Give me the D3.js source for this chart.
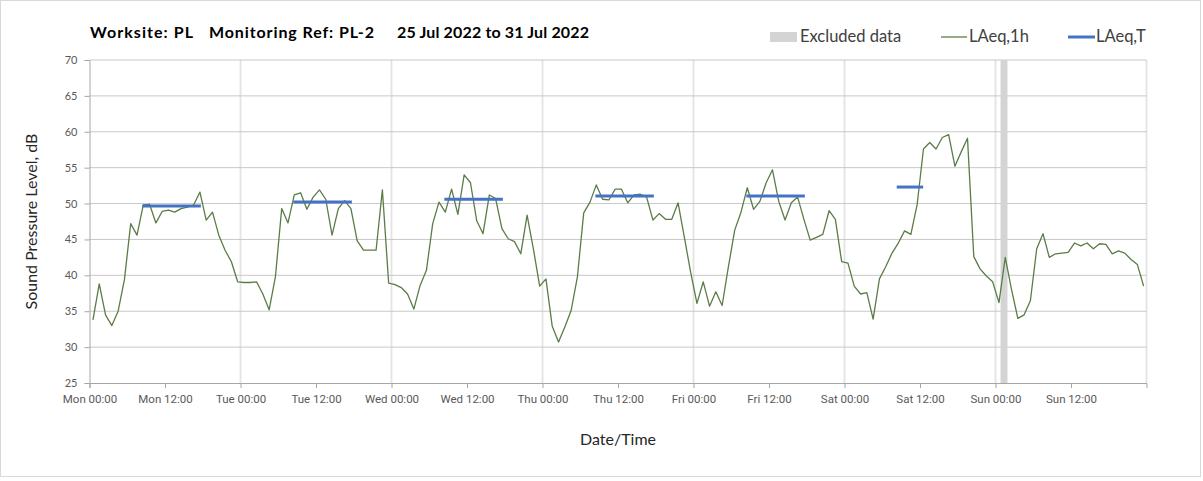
<html>
<head>
  <script src="https://d3js.org/d3.v7.min.js"></script>
  <style>
  body { margin: 0; background: #fff; }
  svg { display: block; }
  .ylab { font-family: Lato, "Open Sans", sans-serif; font-size: 11px; fill: #595959; }
  .xlab { font-family: "Liberation Sans Narrow", Roboto, sans-serif; font-size: 11.5px; fill: #595959; }
  </style>
</head>
<body>
  <svg id="chart" width="1203" height="481"></svg>
  <script>

// hourly LAeq,1h readings, Mon 00:00 .. Sun 23:00 (25 Jul - 31 Jul 2022)
var laeq1h = [
  33.8, 38.8, 34.5, 33.0, 35.0, 39.4, 47.2, 45.6, 49.8, 49.9, 47.3, 48.9,
  49.1, 48.8, 49.3, 49.5, 49.8, 51.6, 47.7, 48.8, 45.6, 43.5, 41.9, 39.1,
  39.0, 39.0, 39.1, 37.4, 35.2, 39.8, 49.3, 47.3, 51.2, 51.5, 49.2, 50.9,
  51.9, 50.6, 45.6, 49.3, 50.4, 49.3, 44.8, 43.5, 43.5, 43.5, 51.9, 38.9,
  38.7, 38.3, 37.4, 35.3, 38.6, 40.7, 47.2, 50.2, 48.8, 52.0, 48.5, 54.0,
  52.9, 47.6, 45.8, 51.2, 50.7, 46.5, 45.1, 44.7, 43.0, 48.4, 43.7, 38.5,
  39.5, 32.9, 30.7, 32.8, 35.1, 39.8, 48.7, 50.2, 52.6, 50.6, 50.5, 52.0,
  52.0, 50.1, 51.2, 51.3, 50.9, 47.7, 48.6, 47.8, 47.8, 50.1, 45.3, 40.4,
  36.1, 39.1, 35.7, 37.7, 35.8, 41.2, 46.3, 48.8, 52.2, 49.2, 50.3, 52.9,
  54.7, 50.3, 47.7, 50.1, 50.9, 47.8, 44.9, 45.3, 45.7, 49.0, 47.8, 41.9,
  41.7, 38.5, 37.4, 37.6, 33.9, 39.5, 41.2, 43.1, 44.5, 46.2, 45.7, 49.9,
  57.6, 58.5, 57.6, 59.2, 59.6, 55.2, 57.2, 59.1, 42.6, 40.9, 39.9, 39.1,
  36.2, 42.5, 38.0, 34.0, 34.5, 36.5, 43.7, 45.8, 42.5, 43.0, 43.1, 43.2,
  44.5, 44.1, 44.5, 43.7, 44.4, 44.3, 43.0, 43.4, 43.1, 42.2, 41.5, 38.5
];

// LAeq,T per day (Mon..Sat), with period start/end (hour of day)
var laeqTDay   = [0, 1, 2, 3, 4, 5];
var laeqT      = [49.65, 50.2, 50.6, 51.05, 51.05, 52.3];
var laeqTStart = [8.4, 8.4, 8.4, 8.4, 8.4, 8.3];
var laeqTEnd   = [17.7, 17.7, 17.7, 17.7, 17.7, 12.5];

// excluded period (hours from Mon 00:00)
var excluded = [[144.8, 145.9]];

var yTicks = [25, 30, 35, 40, 45, 50, 55, 60, 65, 70];

var svg = d3.select("#chart");

var t0 = Date.UTC(2022, 6, 25), t1 = Date.UTC(2022, 7, 1);
var HOUR = 3600000;

var x = d3.scaleUtc().domain([t0, t1]).range([89.5, 1146.5]);
var y = d3.scaleLinear().domain([25, 70]).range([383, 60]);

function hourX(h) { return x(t0 + h * HOUR); }

// outer border
svg.append("rect")
  .attr("x", 0.5).attr("y", 0.5)
  .attr("width", 1200).attr("height", 476)
  .attr("fill", "#fff").attr("stroke", "#d9d9d9");

// vertical gridlines at midnight
var dayTicks = d3.utcDay.range(t0 + 1, t1 + 1);
svg.append("g").selectAll("line")
  .data(dayTicks)
  .enter().append("line")
    .attr("x1", function(d) { return x(d); })
    .attr("x2", function(d) { return x(d); })
    .attr("y1", y(70)).attr("y2", y(25))
    .attr("stroke", "#e3e3e3").attr("stroke-width", 1.8);

// horizontal gridlines
svg.append("g").selectAll("line")
  .data(yTicks.slice(1))
  .enter().append("line")
    .attr("x1", x.range()[0]).attr("x2", x.range()[1])
    .attr("y1", function(d) { return y(d); })
    .attr("y2", function(d) { return y(d); })
    .attr("stroke", "#c8c8c8").attr("stroke-width", 1);

// excluded band
svg.append("g").selectAll("rect")
  .data(excluded)
  .enter().append("rect")
    .attr("x", function(d) { return hourX(d[0]); })
    .attr("width", function(d) { return hourX(d[1]) - hourX(d[0]); })
    .attr("y", y(70)).attr("height", y(25) - y(70))
    .attr("fill", "#d4d4d4");

// y axis
var yAxis = d3.axisLeft(y).tickValues(yTicks).tickSize(5).tickPadding(7);
var gy = svg.append("g").attr("transform", "translate(" + x.range()[0] + ",0)").call(yAxis);
gy.select(".domain").attr("stroke", "#a6a6a6");
gy.selectAll(".tick line").attr("stroke", "#a6a6a6");
gy.selectAll(".tick text").attr("class", "ylab").attr("fill", null);

// x axis
var xTicks = d3.utcHour.every(12).range(t0, t1);
var fmt = d3.utcFormat("%a %H:%M");
var xAxis = d3.axisBottom(x).tickValues(xTicks).tickFormat(fmt).tickSize(5).tickPadding(7);
var gx = svg.append("g").attr("transform", "translate(0," + y(25) + ")").call(xAxis);
gx.select(".domain").attr("stroke", "#a6a6a6");
gx.selectAll(".tick line").attr("stroke", "#a6a6a6");
gx.selectAll(".tick text").attr("class", "xlab").attr("fill", null);

// LAeq,1h line
var line = d3.line()
  .x(function(d, i) { return hourX(i + 0.55); })
  .y(function(d) { return y(d); });

svg.append("path")
  .datum(laeq1h)
  .attr("d", line)
  .attr("fill", "none")
  .attr("stroke", "#5b7c47")
  .attr("stroke-width", 1.3)
  .attr("stroke-linejoin", "round");

// LAeq,T segments
svg.append("g").selectAll("line")
  .data(laeqT)
  .enter().append("line")
    .attr("x1", function(d, i) { return hourX(laeqTDay[i] * 24 + laeqTStart[i]); })
    .attr("x2", function(d, i) { return hourX(laeqTDay[i] * 24 + laeqTEnd[i]); })
    .attr("y1", function(d) { return y(d); })
    .attr("y2", function(d) { return y(d); })
    .attr("stroke", "#4472c4").attr("stroke-width", 3);

// title
var title = svg.append("g")
  .style("font-family", "Lato, 'Open Sans', sans-serif")
  .style("font-weight", "bold").style("font-size", "16px").attr("fill", "#000");
title.append("text").attr("x", 90).attr("y", 38).attr("textLength", 103).text("Worksite: PL");
title.append("text").attr("x", 209).attr("y", 38).attr("textLength", 165).text("Monitoring Ref: PL-2");
title.append("text").attr("x", 397).attr("y", 38).attr("textLength", 192).text("25 Jul 2022 to 31 Jul 2022");

// legend
var legend = svg.append("g")
  .style("font-family", "Lato, 'Open Sans', sans-serif")
  .style("font-size", "16.5px").attr("fill", "#404040");
legend.append("rect").attr("x", 770).attr("y", 32).attr("width", 27).attr("height", 10).attr("fill", "#d4d4d4");
legend.append("text").attr("x", 800).attr("y", 42).text("Excluded data");
legend.append("line").attr("x1", 941).attr("x2", 967).attr("y1", 37).attr("y2", 37)
  .attr("stroke", "#5b7c47").attr("stroke-width", 1.3);
legend.append("text").attr("x", 969).attr("y", 42).text("LAeq,1h");
legend.append("line").attr("x1", 1068).attr("x2", 1095).attr("y1", 37).attr("y2", 37)
  .attr("stroke", "#4472c4").attr("stroke-width", 3);
legend.append("text").attr("x", 1096).attr("y", 42).text("LAeq,T");

// axis titles
svg.append("text")
  .attr("transform", "translate(37," + ((y(25) + y(70)) / 2) + ") rotate(-90)")
  .attr("text-anchor", "middle")
  .style("font-family", "Lato, 'Open Sans', sans-serif").style("font-size", "16px")
  .attr("fill", "#262626")
  .text("Sound Pressure Level, dB");

svg.append("text")
  .attr("x", 618).attr("y", 445)
  .attr("text-anchor", "middle")
  .style("font-family", "Lato, 'Open Sans', sans-serif").style("font-size", "16px")
  .attr("fill", "#262626")
  .text("Date/Time");

  </script>
</body>
</html>
